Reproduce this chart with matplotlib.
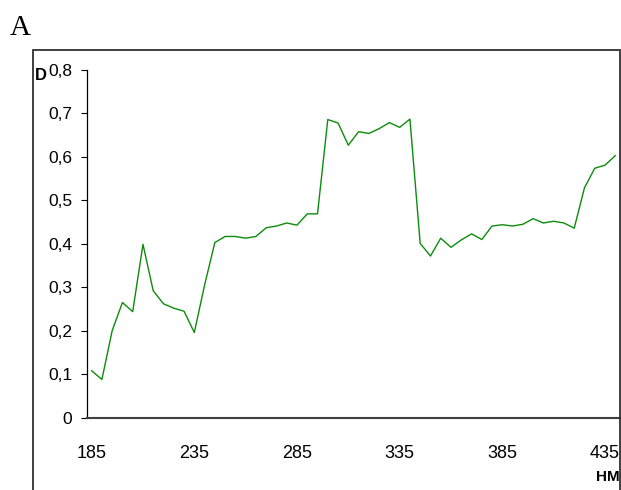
import matplotlib
matplotlib.use("Agg")
import matplotlib.pyplot as plt
from matplotlib.patches import Rectangle
from matplotlib.ticker import FixedLocator

wavelength = [185, 190, 195, 200, 205, 210, 215, 220, 225, 230,
              235, 240, 245, 250, 255, 260, 265, 270, 275, 280,
              285, 290, 295, 300, 305, 310, 315, 320, 325, 330,
              335, 340, 345, 350, 355, 360, 365, 370, 375, 380,
              385, 390, 395, 400, 405, 410, 415, 420, 425, 430,
              435, 440]
density = [0.108, 0.088, 0.200, 0.265, 0.244, 0.399, 0.292, 0.262, 0.252, 0.245,
           0.196, 0.305, 0.403, 0.417, 0.417, 0.413, 0.417, 0.437, 0.441, 0.448,
           0.443, 0.469, 0.469, 0.686, 0.678, 0.627, 0.658, 0.654, 0.665, 0.679,
           0.668, 0.687, 0.401, 0.372, 0.413, 0.392, 0.409, 0.423, 0.410, 0.441,
           0.444, 0.441, 0.445, 0.458, 0.448, 0.452, 0.448, 0.436, 0.529, 0.574,
           0.581, 0.603]
x_ticks = [185, 235, 285, 335, 385, 435]
y_ticks = [0, 0.1, 0.2, 0.3, 0.4, 0.5, 0.6, 0.7, 0.8]
y_labels = ["0", "0,1", "0,2", "0,3", "0,4", "0,5", "0,6", "0,7", "0,8"]

narrow = ["Liberation Sans Narrow", "Liberation Sans", "DejaVu Sans"]

fig = plt.figure(figsize=(6.21, 4.90), dpi=100)
W, H = 621, 490

# outer frame
fig.patches.append(Rectangle((33 / W, -0.1), (619.5 - 33) / W, 1.1 - 50 / H,
                             transform=fig.transFigure, fill=False,
                             edgecolor="#303030", linewidth=1.3))

ax = fig.add_axes([86.7 / W, 1 - 417.7 / H, (620 - 86.7) / W, (417.7 - 70) / H])
ax.plot(wavelength, density, color="#0c8c0c", linewidth=1.0)
ax.set_xlim(182.6, 442.3)
ax.set_ylim(0, 0.8)

for s in ["top", "right"]:
    ax.spines[s].set_visible(False)
ax.spines["left"].set_color("black")
ax.spines["left"].set_linewidth(0.9)
ax.spines["bottom"].set_color("#404040")
ax.spines["bottom"].set_linewidth(1.5)

ax.yaxis.set_major_locator(FixedLocator(y_ticks))
ax.set_yticklabels(y_labels, fontfamily=narrow, fontsize=12.5)
ax.tick_params(axis="y", direction="out", length=4.3, width=0.8, pad=6, colors="black")
ax.xaxis.set_major_locator(FixedLocator(x_ticks))
ax.set_xticklabels([str(v) for v in x_ticks], fontfamily=narrow, fontsize=13)
ax.tick_params(axis="x", length=0, pad=19.5)

fig.text(35 / W, 1 - 80 / H, "D", fontfamily=narrow, fontweight="bold",
         fontsize=12, ha="left", va="baseline")
fig.text(620 / W, 1 - 481 / H, "HM", fontfamily=narrow, fontweight="bold",
         fontsize=11, ha="right", va="baseline")
fig.text(10 / W, 1 - 35 / H, "A", fontfamily=["Liberation Serif", "DejaVu Serif"],
         fontsize=21, ha="left", va="baseline")

fig.savefig("out.png", dpi=100)
